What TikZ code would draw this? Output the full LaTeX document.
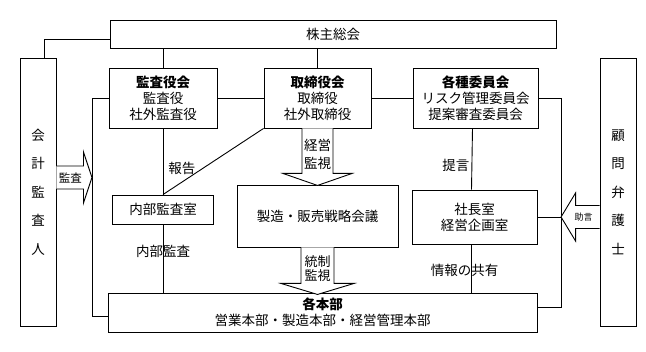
\documentclass[tikz,border=0pt]{standalone}
\usepackage{fontspec}
\setmainfont{Noto Sans CJK JP}
\usetikzlibrary{positioning,calc}

\begin{document}
\begin{tikzpicture}[x=1pt,y=-1pt,line width=0.9pt,font=\fontsize{13.5}{16}\selectfont]
  \tikzstyle{org}=[draw,inner sep=0pt,align=center]
  \tikzstyle{side}=[org,minimum width=36pt,minimum height=268pt,font=\fontsize{13.5}{28.5}\selectfont]
  \tikzstyle{barrow}=[draw,fill=white,line join=miter]
  \tikzstyle{lbl}=[inner sep=1pt]
  \useasboundingbox (0,0) rectangle (646,352);
  % top and side boxes
  \node[org,minimum width=446pt,minimum height=28pt] (kabu) at (333,34) {株主総会};
  \node[side] (kaikei) at (38,192) {会\\計\\監\\査\\人};
  \node[side] (komon) at (618,192) {顧\\問\\弁\\護\\士};
  % board level
  \node[org,minimum width=108pt,minimum height=60pt] (kansa) at (163,98) {\textbf{監査役会}\\監査役\\社外監査役};
  \node[org,minimum width=107pt,minimum height=60pt] (torishimari) at (317.5,98) {\textbf{取締役会}\\取締役\\社外取締役};
  \node[org,minimum width=125pt,minimum height=60pt] (iinkai) at (475.5,98) {\textbf{各種委員会}\\リスク管理委員会\\提案審査委員会};
  % middle level
  \node[org,minimum width=101pt,minimum height=29pt] (naibu) at (163,209.5) {内部監査室};
  \node[org,minimum width=161pt,minimum height=62pt] (senryaku) at (317.5,216) {製造・販売戦略会議};
  \node[org,minimum width=125pt,minimum height=54pt] (shacho) at (474.5,217) {社長室\\経営企画室};
  % bottom
  \node[org,minimum width=429pt,minimum height=39pt] (honbu) at (322.5,312.5) {\textbf{各本部}\\営業本部・製造本部・経営管理本部};
  % bus lines
  \coordinate (lb) at (92,316);
  \coordinate (rb) at (561,307);
  \draw ([yshift=-5pt]kabu.west) -| ([xshift=6pt]kaikei.north);
  \draw (kansa.north) -- (kansa.north |- kabu.south);
  \draw (torishimari.north) -- (torishimari.north |- kabu.south);
  \draw (kansa.east) -- (torishimari.west);
  \draw (torishimari.east) -- (iinkai.east -| iinkai.west);
  \draw (kansa.west) -| (lb) -- (lb -| honbu.west);
  \draw (iinkai.east) -| (rb) -- (rb -| honbu.east);
  \draw (shacho.east) -- (shacho.east -| rb);
  % reporting lines
  \draw (kansa.south) -- (naibu.north) node[lbl,pos=0.6,right=4pt]{報告};
  \draw (naibu.south) -- (naibu.south |- honbu.north) node[lbl,pos=0.4]{内部監査};
  \draw (torishimari.south west) -- (naibu.north);
  \draw ([xshift=-3pt]iinkai.south) -- ([xshift=-3pt]shacho.north) node[lbl,pos=0.6,left=1pt]{提言};
  \draw ([xshift=-3pt]shacho.south) -- ([xshift=-3pt]shacho.south |- honbu.north) node[lbl,pos=0.53,xshift=-7pt]{情報の共有};
  % block arrows
  \draw[barrow] ($(kaikei.east)+(0,-26)$) -- ++(27,0) -- ++(0,-14) -- ++(8.5,25.5) -- ++(-8.5,25.5) -- ++(0,-14) -- ++(-27,0);
  \node[lbl,font=\fontsize{11.5}{14}\selectfont] (kansaLbl) at ($(kaikei.east)+(14,-14)$) {監査};
  \draw[barrow] ($(torishimari.south)+(-15.5,0)$) -- ++(0,45) -- ++(-19,0) -- ++(34.5,12) -- ++(34.5,-12) -- ++(-19,0) -- ++(0,-45);
  \node[lbl,align=center,font=\fontsize{13.5}{18}\selectfont] (keieiLbl) at ($(torishimari.south)+(0,26)$) {経営\\監視};
  \draw[barrow] ($(senryaku.south)+(-16.5,0)$) -- ++(0,36) -- ++(-20,0) -- ++(36.5,11) -- ++(36.5,-11) -- ++(-20,0) -- ++(0,-36);
  \node[lbl,align=center,font=\fontsize{13}{14}\selectfont] (toseiLbl) at ($(senryaku.south)+(0,21)$) {統制\\監視};
  \draw[barrow] ($(komon.west)+(0,13.5)$) -- ++(-24,0) -- ++(0,-12.5) -- ++(-14.5,24) -- ++(14.5,24) -- ++(0,-12.5) -- ++(24,0);
  \node[lbl,font=\fontsize{9}{11}\selectfont] (jogenLbl) at ($(komon.west)+(-16,25)$) {助言};
\end{tikzpicture}
\end{document}
